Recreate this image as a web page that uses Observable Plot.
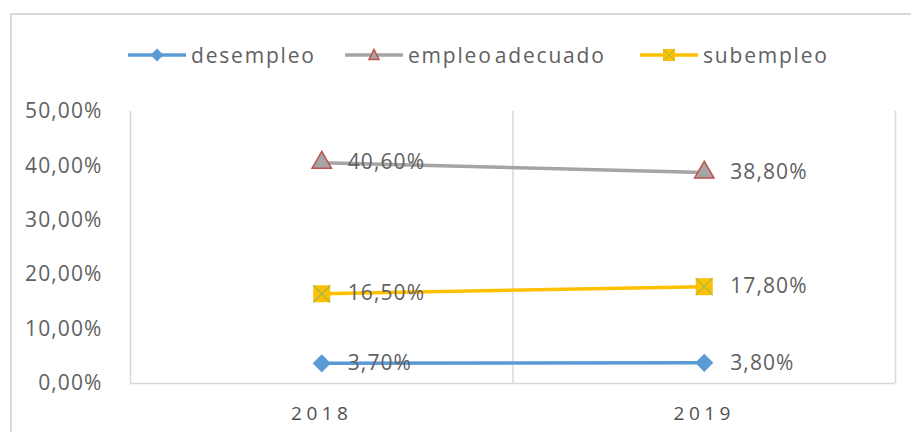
<!DOCTYPE html>
<html><head><meta charset="utf-8">
<script src="https://cdn.jsdelivr.net/npm/d3@7"></script>
<script src="https://cdn.jsdelivr.net/npm/@observablehq/plot@0.6"></script>
<style>
body{margin:0;background:#fff;font-family:"Open Sans",sans-serif;}
#wrap{position:relative;width:911px;height:432px;overflow:hidden;background:#fff;}
#frame{position:absolute;left:10px;top:13px;width:905px;height:430px;border-left:2px solid #d9d9d9;border-top:2px solid #d9d9d9;pointer-events:none}
#legend{position:relative;height:95px;color:#616161;font-size:21px;letter-spacing:1.8px;}
.item{position:absolute;top:41px;display:flex;align-items:center;gap:5px;}
.item svg{display:block}
#chart svg{display:block;overflow:visible}
#chart text{letter-spacing:1.1px}
#chart g[aria-label="x-axis tick label"] text{letter-spacing:4.5px;font-size:19px;fill:#505050}
</style></head>
<body><div id="wrap"><div id="frame"></div><div id="legend"></div><div id="chart"></div></div>
<script>
// ---- data ----
const years = [2018, 2019];
const seriesNames = ["desempleo", "empleo adecuado", "subempleo"];
const desempleo = [3.7, 3.8];
const empleoAdecuado = [40.6, 38.8];
const subempleo = [16.5, 17.8];
const yTicks = [0, 10, 20, 30, 40, 50];

const colors = {"desempleo": "#5B9BD5", "empleo adecuado": "#A5A5A5", "subempleo": "#FFC000"};
const valuesBySeries = {"desempleo": desempleo, "empleo adecuado": empleoAdecuado, "subempleo": subempleo};
const rows = seriesNames.flatMap(s => years.map((y, i) => ({series: s, year: y, value: valuesBySeries[s][i]})));
const fmt = v => v.toFixed(2).replace(".", ",") + "%";
const bounds = [years[0] - 0.5, (years[0] + years[1]) / 2, years[1] + 0.5];

// ---- legend ----
const legendLeft = {"desempleo": 128, "empleo adecuado": 345, "subempleo": 640};
const swatch = {
  "desempleo": `<line x1="0" y1="10" x2="58" y2="10" stroke="#5B9BD5" stroke-width="3.5"/><polygon points="29,3.5 35.5,10 29,16.5 22.5,10" fill="#5B9BD5"/>`,
  "empleo adecuado": `<line x1="0" y1="10" x2="58" y2="10" stroke="#A5A5A5" stroke-width="3.5"/><polygon points="29,4.5 34,14.5 24,14.5" fill="#A5A5A5" stroke="#C0504D" stroke-width="1.5"/>`,
  "subempleo": `<line x1="0" y1="10" x2="58" y2="10" stroke="#FFC000" stroke-width="3.5"/><rect x="23" y="4" width="12" height="12" fill="#FFC000"/><path d="M23,4L35,16M35,4L23,16" stroke="#9BBB59" stroke-width="1"/>`
};
const legend = document.getElementById("legend");
seriesNames.forEach(s => {
  const d = document.createElement("div");
  d.className = "item";
  d.style.left = legendLeft[s] + "px";
  d.innerHTML = `<svg width="58" height="20">${swatch[s]}</svg><span${s === "empleo adecuado" ? ' style="word-spacing:-5px"' : ""}>${s}</span>`;
  legend.appendChild(d);
});

// ---- chart ----
const sel = s => rows.filter(r => r.series === s);
const chart = Plot.plot({
  width: 911,
  height: 337,
  marginTop: 16,
  marginBottom: 49,
  marginLeft: 130,
  marginRight: 16,
  style: {fontFamily: "Open Sans", fontSize: "21px", color: "#616161", background: "transparent"},
  x: {type: "linear", domain: [bounds[0], bounds[2]]},
  y: {domain: [0, 50]},
  marks: [
    Plot.ruleX(bounds, {stroke: "#d9d9d9", strokeWidth: 1.5}),
    Plot.ruleY([0], {stroke: "#d9d9d9", strokeWidth: 1.5}),
    Plot.axisY({ticks: yTicks, tickSize: 0, tickPadding: 28, tickFormat: d => d.toFixed(2).replace(".", ",") + "%", label: null}),
    Plot.axisX({ticks: years, tickSize: 0, tickPadding: 23, tickFormat: d => String(d), label: null}),
    Plot.line(rows, {x: "year", y: "value", z: "series", stroke: d => colors[d.series], strokeWidth: 3.5}),
    Plot.dot(sel("desempleo"), {x: "year", y: "value", symbol: "diamond2", r: 8.2, fill: "#5B9BD5"}),
    Plot.dot(sel("empleo adecuado"), {x: "year", y: "value", symbol: "triangle", r: 7.2, fill: "#A5A5A5", stroke: "#C0504D", strokeWidth: 1.5}),
    Plot.dot(sel("subempleo"), {x: "year", y: "value", symbol: "square", r: 9.6, fill: "#FFC000"}),
    Plot.dot(sel("subempleo"), {x: "year", y: "value", symbol: "times", r: 7.8, stroke: "#9BBB59", strokeWidth: 1.2}),
    Plot.text(rows, {x: "year", y: "value", text: d => fmt(d.value), dx: 26, textAnchor: "start", fill: "#616161"})
  ]
});
document.getElementById("chart").appendChild(chart);
</script></body></html>
